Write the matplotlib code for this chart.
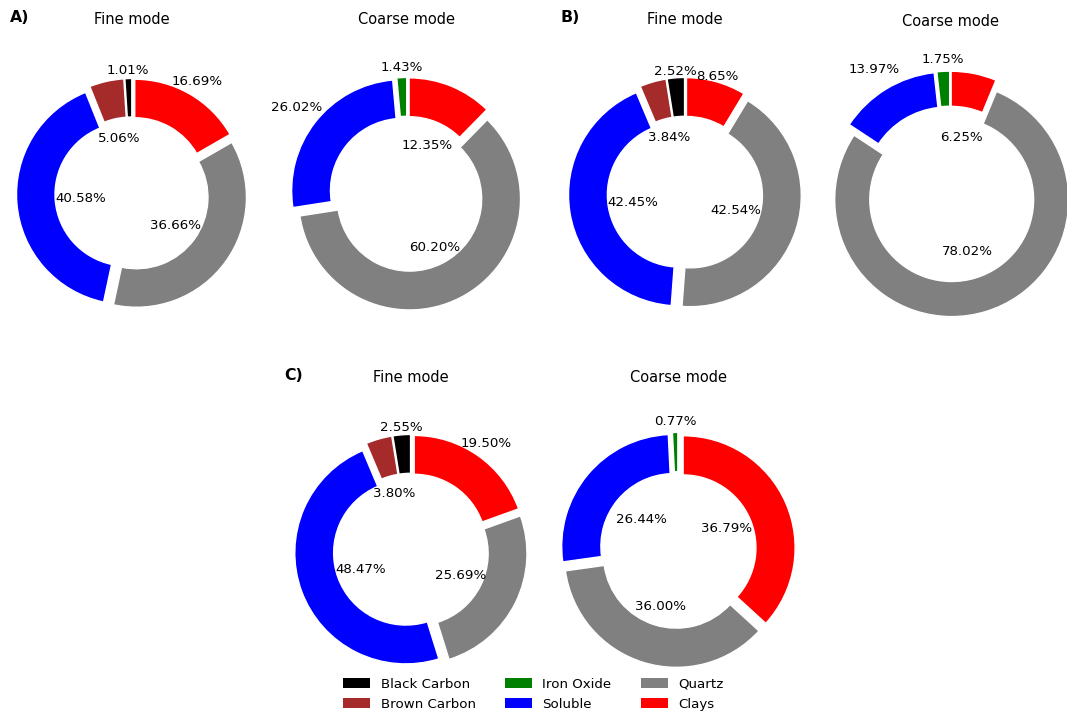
import numpy as np
import matplotlib.pyplot as plt
from matplotlib.patches import Patch

# aerosol species, same order for every donut (counter-clockwise from the top)
categories = ["Black Carbon", "Brown Carbon", "Iron Oxide", "Soluble", "Quartz", "Clays"]
colors = ["black", "brown", "green", "blue", "grey", "red"]

# contributions in %
a_fine = [1.01, 5.06, 0, 40.58, 36.66, 16.69]
a_coarse = [0, 0, 1.43, 26.02, 60.20, 12.35]
b_fine = [2.52, 3.84, 0, 42.45, 42.54, 8.65]
b_coarse = [0, 0, 1.75, 13.97, 78.02, 6.25]
c_fine = [2.55, 3.80, 0, 48.47, 25.69, 19.50]
c_coarse = [0, 0, 0.77, 26.44, 36.00, 36.79]

# where each percentage text sits (radius units, one per non-zero wedge)
label_r = {
    "a_fine": [1.12, 0.52, 0.47, 0.49, 1.18],
    "a_coarse": [1.145, 1.26, 0.545, 0.47],
    "b_fine": [1.11, 0.53, 0.475, 0.485, 1.10],
    "b_coarse": [1.155, 1.25, 0.51, 0.49],
    "c_fine": [1.12, 0.535, 0.48, 0.495, 1.18],
    "c_coarse": [1.145, 0.425, 0.53, 0.47],
}

W, H = 1067, 713
fig = plt.figure(figsize=(W / 100, H / 100), dpi=100)


def px_axes(cx, cy, r):
    # square axes (pie limits are +-1.25) centred on pixel (cx, cy)
    side = 2.5 * r
    return fig.add_axes([(cx - side / 2) / W, 1 - (cy + side / 2) / H, side / W, side / H])


def donut(ax, values, dists, width=0.35):
    vals = np.array(values, dtype=float)
    keep = vals > 0
    wedges, _ = ax.pie(
        vals[keep],
        colors=np.array(colors)[keep],
        startangle=90,
        explode=[0.05] * int(keep.sum()),
        wedgeprops=dict(width=width, edgecolor="white", linewidth=1),
    )
    for w, v, d in zip(wedges, vals[keep], dists):
        ang = np.deg2rad((w.theta1 + w.theta2) / 2)
        ax.text(d * np.cos(ang), d * np.sin(ang), f"{v:.2f}%",
                ha="center", va="center", fontsize=9.6)


def ftext(x, y, s, **kw):
    fig.text(x / W, 1 - y / H, s, ha="center", va="center", **kw)


panels = [
    (a_fine, "a_fine", (132, 194, 110), 0.35, "Fine mode"),
    (a_coarse, "a_coarse", (407, 194, 111), 0.35, "Coarse mode"),
    (b_fine, "b_fine", (685, 194, 111), 0.35, "Fine mode"),
    (b_coarse, "b_coarse", (950, 194, 117), 0.30, "Coarse mode"),
    (c_fine, "c_fine", (411, 551, 111), 0.35, "Fine mode"),
    (c_coarse, "c_coarse", (678, 550, 112), 0.35, "Coarse mode"),
]

title_y = [20, 20, 20, 21, 377, 377]
for (vals, key, (cx, cy, r), wd, title), ty in zip(panels, title_y):
    ax = px_axes(cx, cy, r)
    donut(ax, vals, label_r[key], width=wd)
    ftext(cx, ty, title, fontsize=10.5)

ftext(20, 18, "A)", fontsize=11.3, fontweight="bold")
ftext(570, 18, "B)", fontsize=11.3, fontweight="bold")
ftext(294, 376, "C)", fontsize=11.3, fontweight="bold")

handles = [Patch(facecolor=c, label=l) for c, l in zip(colors, categories)]
fig.legend(handles=handles, loc="lower center", ncol=3, frameon=False,
           fontsize=9.6, bbox_to_anchor=(0.5, -0.004), borderaxespad=0,
           columnspacing=2.2, handleheight=0.8)

fig.savefig("out.png", dpi=100)
